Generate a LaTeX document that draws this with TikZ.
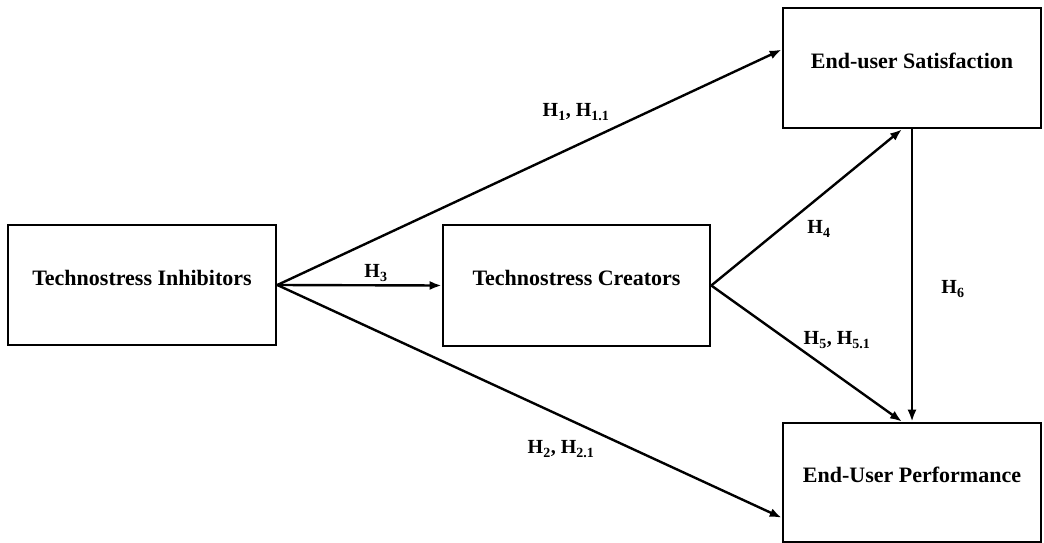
\documentclass[tikz,border=0pt]{standalone}
\usepackage{fontspec}
\setmainfont{Liberation Serif}
\usetikzlibrary{arrows.meta,calc}
\tikzset{
  box/.style={draw=black, line width=2.6pt, fill=white, inner sep=0pt, text depth=15pt, font=\fontsize{22}{25}\selectfont\bfseries},
  conn/.style={draw=black, line width=2.4pt, -{Latex[length=12pt,width=9pt]}},
  lab/.style={inner sep=0pt, font=\fontsize{20}{22}\selectfont\bfseries}
}
\begin{document}
\begin{tikzpicture}[x=1pt,y=-1pt]
\useasboundingbox (0,0) rectangle (1044,543);
\node[box, minimum width=268pt, minimum height=120pt] (inh) at (142,285) {Technostress Inhibitors};
\node[box, minimum width=267pt, minimum height=121pt] (cre) at (576.5,285.5) {Technostress Creators};
\node[box, minimum width=258pt, minimum height=120pt] (sat) at (912,68) {End-user Satisfaction};
\node[box, minimum width=258pt, minimum height=119pt] (perf) at (912,482.5) {End-User Performance};
\coordinate (satin) at ($(sat.north west)!0.35!(sat.south west)$);
\coordinate (perfin) at ($(perf.north west)!0.79!(perf.south west)$);
\draw[conn] (inh.east) -- (satin);
\draw[conn] (inh.east) -- (cre.west);
\draw[conn] (inh.east) -- (perfin);
\draw[conn] (cre.east) -- ([xshift=-10pt]sat.south);
\draw[conn] (cre.east) -- ([xshift=-10pt]perf.north);
\draw[conn] (sat.south) -- (perf.north);
\node[lab] (l1) at (576,112) {H\textsubscript{1}, H\textsubscript{1.1}};
\node[lab] (l3) at (376,273) {H\textsubscript{3}};
\node[lab] (l2) at (561,449) {H\textsubscript{2}, H\textsubscript{2.1}};
\node[lab] (l4) at (819,229) {H\textsubscript{4}};
\node[lab] (l5) at (837,340) {H\textsubscript{5}, H\textsubscript{5.1}};
\node[lab] (l6) at (953,289) {H\textsubscript{6}};
\end{tikzpicture}
\end{document}
